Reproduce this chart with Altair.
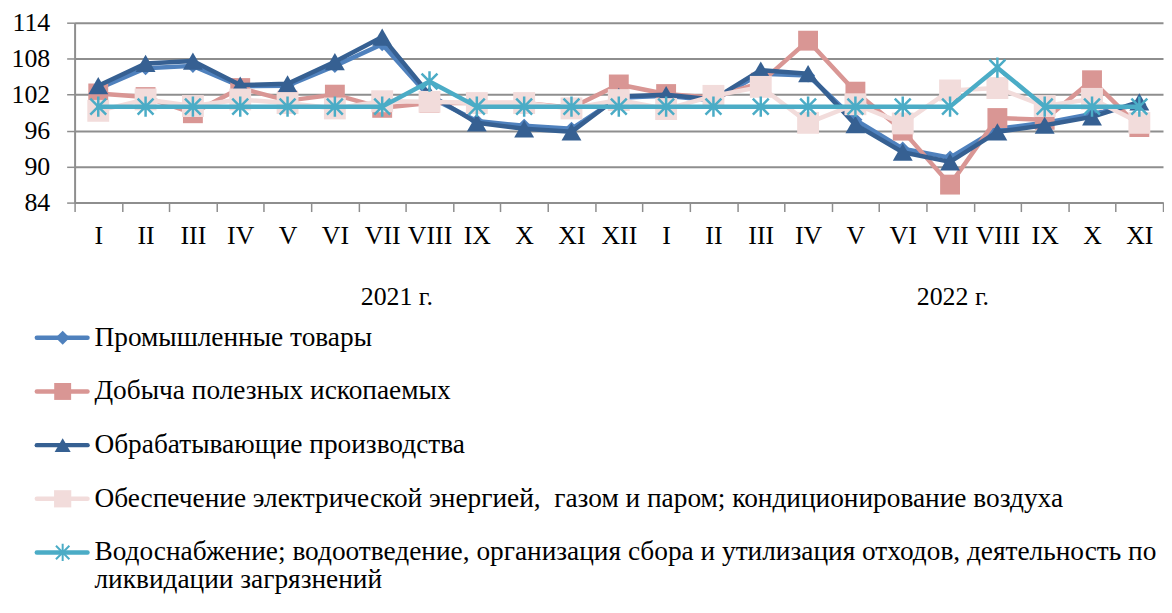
import altair as alt
import pandas as pd

# ---------------- data ----------------
months = ["I", "II", "III", "IV", "V", "VI", "VII", "VIII", "IX", "X", "XI", "XII",
          "I", "II", "III", "IV", "V", "VI", "VII", "VIII", "IX", "X", "XI"]
years = ["2021 г.", "2022 г."]
year_pos = [6.8, 18.55]

series_names = [
    "Промышленные товары",
    "Добыча полезных ископаемых",
    "Обрабатывающие производства",
    "Обеспечение электрической энергией,  газом и паром; кондиционирование воздуха",
    "Водоснабжение; водоотведение, организация сбора и утилизация отходов, деятельность по ликвидации загрязнений",
]
legend_line1 = [
    "Промышленные товары",
    "Добыча полезных ископаемых",
    "Обрабатывающие производства",
    "Обеспечение электрической энергией,\u00a0 газом и паром; кондиционирование воздуха",
    "Водоснабжение; водоотведение, организация сбора и утилизация отходов, деятельность по",
]
legend_line2 = ["", "", "", "", "ликвидации загрязнений"]

industrial = [103.0, 106.4, 106.8, 103.4, 103.5, 106.8, 110.4, 101.6, 97.6, 96.8, 96.3, 101.5,
              101.8, 101.0, 105.5, 105.2, 97.8, 93.0, 91.5, 96.3, 97.3, 98.8, 100.4]
mining = [102.2, 101.6, 98.9, 103.1, 101.0, 102.0, 99.8, 100.6, 100.6, 100.6, 99.8, 103.7,
          102.1, 101.5, 104.0, 111.0, 102.5, 96.0, 87.0, 98.1, 97.8, 104.4, 96.6]
manufacturing = [103.5, 107.2, 107.6, 103.6, 103.8, 107.5, 111.6, 102.0, 97.3, 96.3, 95.8, 101.7,
                 102.0, 101.2, 106.1, 105.5, 97.0, 92.4, 90.8, 95.8, 96.9, 98.3, 100.8]
electricity = [99.3, 101.2, 100.1, 101.2, 100.6, 99.7, 100.9, 100.8, 100.6, 100.6, 99.7, 101.1,
               99.6, 101.8, 103.3, 97.3, 100.4, 97.2, 102.7, 103.1, 100.1, 101.3, 97.3]
water = [100.0, 100.0, 100.0, 100.0, 100.0, 100.0, 100.0, 104.2, 100.0, 100.0, 100.0, 100.0,
         100.0, 100.0, 100.0, 100.0, 100.0, 100.0, 100.0, 106.5, 100.0, 100.0, 100.0]

series_values = [industrial, mining, manufacturing, electricity, water]

# ---------------- styling ----------------
colors = ["#4F81BD", "#D99694", "#366092", "#F2DCDB", "#4BACC6"]
STAR = "M0,-1L0,1M-0.78,-0.78L0.78,0.78M-0.78,0.78L0.78,-0.78"
shapes = ["diamond", "square", "triangle-up", "square", STAR]
sizes = [200, 400, 400, 484, 420]
legend_sizes = [200, 290, 260, 300, 300]
FONT = "Liberation Serif"
GRID = "#8E8E8E"
W, H = 1095, 181
n = len(months)

rows = []
for name, vals in zip(series_names, series_values):
    for i, v in enumerate(vals):
        rows.append({"series": name, "pos": i + 0.5, "value": v})
df = pd.DataFrame(rows)

x_scale = alt.Scale(domain=[0, n], nice=False, zero=False)
y_scale = alt.Scale(domain=[84, 114], nice=False, zero=False)

month_js = "[" + ",".join("'" + m + "'" for m in months) + "]"
x_axis = alt.Axis(
    orient="bottom",
    values=list(range(n)),
    labelExpr=f"{month_js}[datum.value]",
    labelOffset=W / n / 2,
    labelOverlap=False,
    labelFlush=False,
    labelFont=FONT, labelFontSize=26, labelColor="black",
    labelPadding=11, tickSize=9, tickColor=GRID, tickWidth=1.5,
    domainColor=GRID, domainWidth=2, grid=False, title=None,
)
y_axis = alt.Axis(
    values=[84, 90, 96, 102, 108, 114],
    labelFont=FONT, labelFontSize=26, labelColor="black",
    labelPadding=17, tickSize=8, tickColor=GRID, tickWidth=1.5,
    domainColor=GRID, domainWidth=2,
    grid=True, gridColor=GRID, gridWidth=2, title=None,
)

layers = []
for k, name in enumerate(series_names):
    base = alt.Chart(df).transform_filter(alt.datum.series == name)
    enc = dict(
        x=alt.X("pos:Q", scale=x_scale, axis=x_axis),
        y=alt.Y("value:Q", scale=y_scale, axis=y_axis),
    )
    line = base.mark_line(color=colors[k], strokeWidth=4.5, strokeJoin="round",
                          strokeCap="round").encode(**enc)
    if shapes[k] == STAR:
        pts = base.mark_point(shape=STAR, filled=False, stroke=colors[k], strokeWidth=2.5,
                              size=sizes[k], opacity=1).encode(**enc)
    else:
        pts = base.mark_point(shape=shapes[k], filled=True, fill=colors[k], size=sizes[k],
                              opacity=1, strokeWidth=0).encode(**enc)
    layers += [line, pts]

series_layer = alt.layer(*layers)

# year labels as a second bottom axis
year_df = pd.DataFrame({"pos": year_pos, "label": years, "v": [100.0, 100.0]})
years_js = "[" + ",".join("'" + y + "'" for y in years) + "]"
year_layer = alt.Chart(year_df).mark_point(opacity=0, size=1).encode(
    x=alt.X("pos:Q", scale=x_scale, axis=alt.Axis(
        orient="bottom", values=year_pos,
        labelExpr=f"{years_js}[datum.value < 12 ? 0 : 1]",
        labelFont=FONT, labelFontSize=26, labelColor="black",
        labelOverlap=False, labelFlush=False,
        ticks=False, domain=False, grid=False, offset=79, labelPadding=3, title=None)),
    y=alt.Y("v:Q", scale=y_scale, axis=y_axis),
)

# closing tick at the right end of the category axis (no label)
end_df = pd.DataFrame({"pos": [n], "v": [100.0]})
end_layer = alt.Chart(end_df).mark_point(opacity=0, size=1).encode(
    x=alt.X("pos:Q", scale=x_scale, axis=alt.Axis(
        orient="bottom", values=[n], labels=False, ticks=True, tickSize=9,
        tickColor=GRID, tickWidth=1.5, domain=False, grid=False, title=None)),
    y=alt.Y("v:Q", scale=y_scale, axis=y_axis),
)

top = alt.layer(series_layer, year_layer, end_layer).resolve_axis(x="independent").properties(
    width=W, height=H)

# ---------------- legend panel ----------------
LFS = 27.5
leg_df = pd.DataFrame({"series": series_names, "line1": legend_line1, "line2": legend_line2})
y_leg = alt.Y("series:N", sort=series_names, axis=None,
              scale=alt.Scale(type="point", padding=0))
leg_layers = []
for k, name in enumerate(series_names):
    b = alt.Chart(leg_df).transform_filter(alt.datum.series == name)
    leg_layers.append(b.mark_rule(color=colors[k], strokeWidth=4.5, strokeCap="round").encode(
        x=alt.value(-38), x2=alt.value(13), y=y_leg))
    if shapes[k] == STAR:
        leg_layers.append(b.mark_point(shape=STAR, filled=False, stroke=colors[k], strokeWidth=2,
                                       size=legend_sizes[k], opacity=1).encode(x=alt.value(-12), y=y_leg))
    else:
        leg_layers.append(b.mark_point(shape=shapes[k], filled=True, fill=colors[k],
                                       size=legend_sizes[k], opacity=1, strokeWidth=0).encode(
            x=alt.value(-12), y=y_leg))
leg_text1 = alt.Chart(leg_df).mark_text(align="left", baseline="middle", font=FONT,
                                        fontSize=LFS, color="black").encode(
    x=alt.value(20), y=y_leg, text="line1:N")
leg_text2 = alt.Chart(leg_df).transform_filter(alt.datum.line2 != "").mark_text(
    align="left", baseline="middle", font=FONT, fontSize=LFS, color="black", dy=27.5).encode(
    x=alt.value(20), y=y_leg, text="line2:N")
legend = alt.layer(*leg_layers, leg_text1, leg_text2).properties(width=1000, height=216)

chart = alt.vconcat(top, legend, spacing=14).properties(
    padding={"left": 3, "top": 0, "right": 0, "bottom": 0}
).configure_view(stroke=None)

chart.save("out.html", embed_options={"renderer": "svg", "actions": False})
